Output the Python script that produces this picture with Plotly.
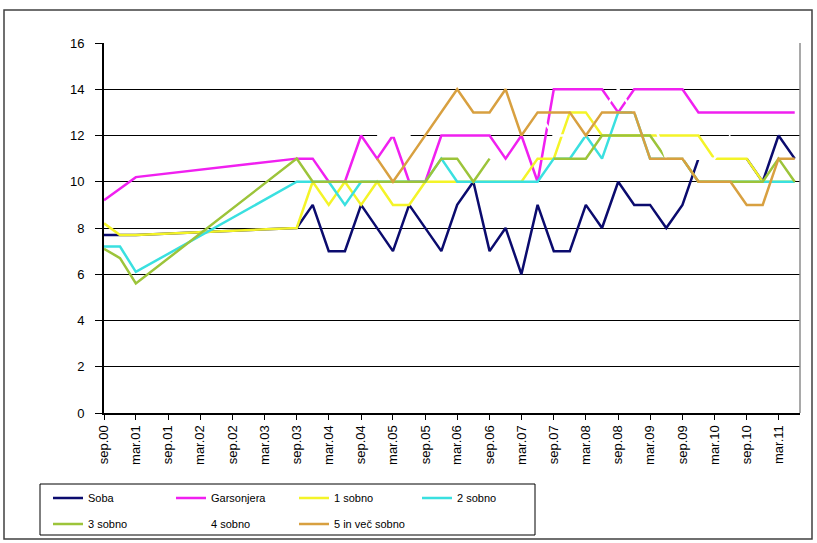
import plotly.graph_objects as go

# Quarterly observation dates (the series start in 2000, jump to 2003)
dates = [
    "2000-09-01", "2000-12-01", "2001-03-01",
    "2003-09-01", "2003-12-01", "2004-03-01", "2004-06-01", "2004-09-01", "2004-12-01",
    "2005-03-01", "2005-06-01", "2005-09-01", "2005-12-01", "2006-03-01", "2006-06-01",
    "2006-09-01", "2006-12-01", "2007-03-01", "2007-06-01", "2007-09-01", "2007-12-01",
    "2008-03-01", "2008-06-01", "2008-09-01", "2008-12-01", "2009-03-01", "2009-06-01",
    "2009-09-01", "2009-12-01", "2010-03-01", "2010-06-01", "2010-09-01", "2010-12-01",
    "2011-03-01", "2011-06-01",
]

soba = [7.7, 7.7, 7.7,
        8, 9, 7, 7, 9, 8, 7, 9, 8, 7, 9, 10, 7, 8, 6, 9, 7, 7, 9, 8, 10, 9, 9, 8, 9, 11,
        None, None, 11, 10, 12, 11]
garsonjera = [9.2, 9.7, 10.2,
              11, 11, 10, 10, 12, 11, 12, 10, 10, 12, 12, 12, 12, 11, 12, 10, 14, 14, 14, 14,
              13, 14, 14, 14, 14, 13, 13, 13, 13, 13, 13, 13]
sobno_1 = [8.2, 7.7, 7.7,
           8, 10, 9, 10, 9, 10, 9, 9, 10, 10, 10, 10, 10, 10, 10, 11, 11, 13, 13, 12, 12,
           12, 12, 12, 12, 12, 11, 11, 11, 10, 10, 10]
sobno_2 = [7.2, 7.2, 6.1,
           10, 10, 10, 9, 10, 10, 10, 10, 10, 11, 10, 10, 10, 10, 10, 10, 11, 11, 12, 11, 13,
           13, 11, 11, 11, 10, 10, 10, 10, 10, 10, 10]
sobno_3 = [7.1, 6.7, 5.6,
           11, 10, 10, 10, 10, 10, 10, 10, 10, 11, 11, 10, 11, None, None, None, 11, 11, 11,
           12, 12, 12, 12, 11, 11, 10, 10, 10, 10, 10, 11, 10]
sobno_4 = [None, None, None,
           None, None, None, None, None, 12, 12, 12, 13, 13, 13, 13, 13, 13, 13, 13, 12, 12,
           12, 13, 14, 13, 13, 11, 11, 11, 11, 12, None, None, None, None]
sobno_5 = [None, None, None,
           None, None, None, None, None, 11, 10, 11, 12, 13, 14, 13, 13, 14, 12, 13, 13, 13,
           12, 13, 13, 13, 11, 11, 11, 10, 10, 10, 9, 9, 11, 11]

series_names = ["Soba", "Garsonjera", "1 sobno", "2 sobno", "3 sobno", "4 sobno", "5 in več sobno"]
series_values = [soba, garsonjera, sobno_1, sobno_2, sobno_3, sobno_4, sobno_5]
series_colors = ["#0b0b6e", "#f020f0", "#f4f428", "#3ae0e0", "#9cc43a", "#ffffff", "#d8a040"]
legend_rows = ["legend", "legend", "legend", "legend", "legend2", "legend2", "legend2"]

tick_dates = [
    "2000-09-01", "2001-03-01", "2001-09-01", "2002-03-01", "2002-09-01", "2003-03-01",
    "2003-09-01", "2004-03-01", "2004-09-01", "2005-03-01", "2005-09-01", "2006-03-01",
    "2006-09-01", "2007-03-01", "2007-09-01", "2008-03-01", "2008-09-01", "2009-03-01",
    "2009-09-01", "2010-03-01", "2010-09-01", "2011-03-01",
]
tick_labels = [
    "sep.00", "mar.01", "sep.01", "mar.02", "sep.02", "mar.03", "sep.03", "mar.04",
    "sep.04", "mar.05", "sep.05", "mar.06", "sep.06", "mar.07", "sep.07", "mar.08",
    "sep.08", "mar.09", "sep.09", "mar.10", "sep.10", "mar.11",
]

FONT = "Arial, Liberation Sans, sans-serif"

fig = go.Figure()
for name, vals, col, lg in zip(series_names, series_values, series_colors, legend_rows):
    fig.add_trace(go.Scatter(
        x=dates, y=vals, name=name, mode="lines",
        line=dict(color=col, width=2.5),
        connectgaps=False, legend=lg, hoverinfo="skip",
    ))

# pixel helpers for paper coordinates (plot area 104..800 x 43..413)
L, R, T, B = 104, 800, 43, 413
def px(x):
    return (x - L) / (R - L)
def py(y):
    return (B - y) / (B - T)

legend_common = dict(
    orientation="h", xanchor="left", yanchor="middle",
    font=dict(family=FONT, size=11, color="#000000"),
    bgcolor="rgba(0,0,0,0)", borderwidth=0,
    entrywidthmode="pixels", entrywidth=78, itemwidth=30,
    traceorder="normal",
)

fig.update_layout(
    width=817, height=543,
    margin=dict(l=L, r=817 - R, t=T, b=543 - B, autoexpand=False),
    paper_bgcolor="#ffffff", plot_bgcolor="#ffffff",
    font=dict(family=FONT, size=13, color="#000000"),
    showlegend=True,
    legend=dict(x=px(48), y=py(498), **legend_common),
    legend2=dict(x=px(48), y=py(524), **legend_common),
    xaxis=dict(
        type="date", range=["2000-09-01", "2011-07-01"],
        tickmode="array", tickvals=tick_dates, ticktext=tick_labels,
        tickangle=-90, ticks="outside", ticklen=5, tickwidth=1, tickcolor="#000000",
        showline=True, linecolor="#000000", linewidth=2,
        showgrid=False, zeroline=False,
        tickfont=dict(family=FONT, size=13, color="#000000"),
    ),
    yaxis=dict(
        range=[0, 16], dtick=2, tick0=0,
        ticks="outside", ticklen=7, tickwidth=1, tickcolor="#000000",
        showline=True, linecolor="#000000", linewidth=2,
        showgrid=True, gridcolor="#000000", gridwidth=1,
        zeroline=False, ticklabelstandoff=8,
        tickfont=dict(family=FONT, size=13, color="#000000"),
    ),
    shapes=[
        # right edge of the plot area
        dict(type="line", xref="paper", yref="paper", x0=1, x1=1, y0=0, y1=1,
             line=dict(color="#8c8c8c", width=1.5)),
        # legend frame
        dict(type="rect", xref="paper", yref="paper",
             x0=px(40), x1=px(535), y0=py(484), y1=py(535),
             line=dict(color="#000000", width=1)),
        # chart frame
        dict(type="rect", xref="paper", yref="paper",
             x0=px(4), x1=px(812), y0=py(10), y1=py(539),
             line=dict(color="#404040", width=1.5)),
    ],
)

fig.write_html("out.html")
